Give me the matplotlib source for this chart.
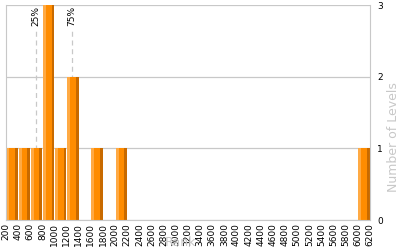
import numpy as np
import matplotlib.pyplot as plt

# histogram of ranks (bins of 200)
bin_edges = list(range(200, 6201, 200))
counts = [1, 1, 1, 3, 1, 2, 0, 1, 0, 1,
          0, 0, 0, 0, 0, 0, 0, 0, 0, 0,
          0, 0, 0, 0, 0, 0, 0, 0, 0, 1]
quartiles = {"25%": 690, "75%": 1280}
y_ticks = [0, 1, 2, 3]

light = "#FFAA44"
mid = "#FF8C00"
dark = "#C86A00"
grid_col = "#C8C8C8"

fig = plt.figure(figsize=(4, 2.5), dpi=100)
ax = fig.add_axes([0.015, 0.12, 0.91, 0.86])

w = 200
lefts = np.array(bin_edges[:-1])
c = np.array(counts)
# three-tone bars
ax.bar(lefts + 8, c, width=0.24 * w, align="edge", color=light, linewidth=0)
ax.bar(lefts + 8 + 0.24 * w, c, width=0.48 * w, align="edge", color=mid, linewidth=0)
ax.bar(lefts + 8 + 0.72 * w, c, width=0.22 * w, align="edge", color=dark, linewidth=0)

for lab, xv in quartiles.items():
    ax.plot([xv, xv], [0, 2.68], ls=(0, (4, 3)), color=grid_col, lw=0.9, zorder=0)
    ax.text(xv, 2.99, lab, rotation=90, ha="center", va="top", fontsize=6.5)

ax.set_xlim(200, 6200)
ax.set_ylim(0, 3)
ax.set_xticks(bin_edges)
ax.set_xticklabels([str(b) for b in bin_edges], rotation=90, fontsize=6.5)
ax.set_yticks(y_ticks)
ax.yaxis.tick_right()
ax.tick_params(axis="y", labelsize=6.5, length=0, pad=5)
ax.tick_params(axis="x", length=0, pad=2)
ax.yaxis.grid(True, color=grid_col, lw=0.9)
ax.set_axisbelow(True)
for s in ["left", "right", "bottom"]:
    ax.spines[s].set_color(grid_col)
ax.spines["top"].set_visible(False)

fig.text(0.983, 0.45, "Number of Levels", rotation=90, ha="center", va="center",
         color="#C8C8C8", fontsize=9)
fig.text(0.45, 0.005, "Rank", ha="center", va="bottom", color="#C8C8C8", fontsize=9)

fig.savefig("out.png")
